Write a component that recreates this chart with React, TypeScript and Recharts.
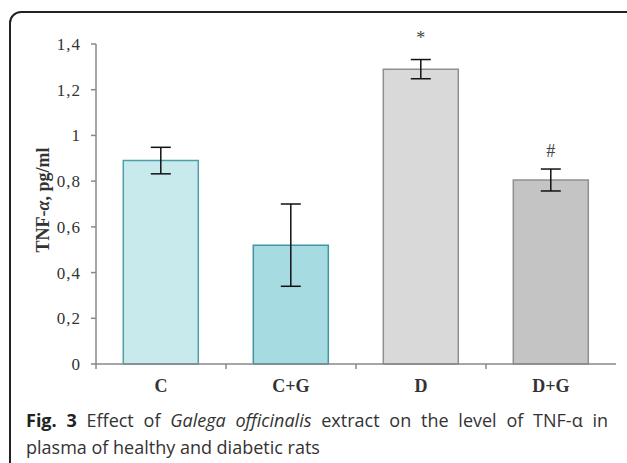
import React from 'react';
import { BarChart, Bar, XAxis, YAxis, ErrorBar, Cell, LabelList, Label } from 'recharts';

const groups = ['C', 'C+G', 'D', 'D+G'];
const tnfValues = [0.89, 0.52, 1.29, 0.805];
const tnfErrors = [0.058, 0.18, 0.042, 0.048];
const marks = ['', '', '*', '#'];
const yTicks = [0, 0.2, 0.4, 0.6, 0.8, 1, 1.2, 1.4];

const fills = ['#c9eaed', '#a6dce1', '#d9d9d9', '#c4c4c4'];
const strokes = ['#4f9fab', '#3f97a3', '#8f8f8f', '#8f8f8f'];

const data = groups.map((g, i) => ({ group: g, value: tnfValues[i], err: tnfErrors[i], mark: marks[i] }));

const fmt = (v: number) => String(v).replace('.', ',');

// category label in the middle, tick mark on the left edge of each band
const GroupTick = (props: any) => {
  const { x, y, payload } = props;
  const half = payload.offset || 65;
  return (
    <g>
      <line x1={x - half} x2={x - half} y1={y - 8} y2={y - 3} stroke="#888" strokeWidth={1.5} />
      <text x={x} y={y + 20} textAnchor="middle" fontFamily="'Liberation Serif', serif" fontWeight="bold" fontSize={18} fill="#333">
        {payload.value}
      </text>
    </g>
  );
};

const MarkLabel = (props: any) => {
  const { x, y, width, height, index } = props;
  const mark = marks[index];
  if (!mark) return null;
  const pxPerUnit = height / tnfValues[index];
  const top = y - tnfErrors[index] * pxPerUnit;
  const lift = mark === '*' ? 16 : 12;
  return (
    <text x={x + width / 2} y={top - lift} textAnchor="middle" fontFamily="'Liberation Serif', serif" fontSize={18} fill="#444">
      {mark}
    </text>
  );
};

export default function App() {
  return (
    <div style={{ position: 'absolute', left: 0, top: 0, width: 627, height: 463, overflow: 'hidden', background: '#fff' }}>
      <div
        style={{
          position: 'absolute', left: 9, top: 11, width: 640, height: 480,
          border: '2px solid #222', borderRadius: 12, boxSizing: 'border-box',
        }}
      />
      <div style={{ position: 'absolute', left: 0, top: 0 }}>
        <BarChart width={627} height={400} data={data} margin={{ top: 44, right: 11, bottom: 6, left: 36 }} barCategoryGap="21%">
          <XAxis
            dataKey="group"
            stroke="#888"
            strokeWidth={1.5}
            tickLine={false}
            tick={<GroupTick />}
            interval={0}
            height={30}
          />
          <YAxis
            domain={[0, 1.4]}
            ticks={yTicks}
            width={60}
            stroke="#888"
            strokeWidth={1.5}
            tickSize={5}
            tickMargin={10}
            tickFormatter={fmt}
            tick={{ fill: '#333', fontSize: 17, fontFamily: "'Liberation Serif', serif", letterSpacing: 1 }}
          >
            <Label
              content={() => (
                <text
                  transform="translate(43,200) rotate(-90)"
                  textAnchor="middle"
                  dominantBaseline="central"
                  fontFamily="'Liberation Serif', serif"
                  fontWeight="bold"
                  fontSize={18}
                  fill="#333"
                >
                  TNF-<tspan fontStyle="italic">α</tspan>, pg/ml
                </text>
              )}
            />
          </YAxis>
          <Bar dataKey="value" isAnimationActive={false} strokeWidth={1.5}>
            {data.map((d, i) => (
              <Cell key={d.group} fill={fills[i]} stroke={strokes[i]} />
            ))}
            <ErrorBar dataKey="err" width={10} stroke="#111" strokeWidth={1.5} />
            <LabelList dataKey="mark" content={<MarkLabel />} />
          </Bar>
        </BarChart>
      </div>
      <div
        style={{
          position: 'absolute', left: 26, top: 407, width: 582,
          fontFamily: "'Open Sans', sans-serif", fontSize: 18, lineHeight: '27px', color: '#333',
        }}
      >
        <div style={{ textAlign: 'justify', textAlignLast: 'justify', whiteSpace: 'nowrap' }}>
          <b style={{ color: '#222' }}>Fig. 3</b> Effect of <i>Galega officinalis</i> extract on the level of TNF-α in
        </div>
        <div>plasma of healthy and diabetic rats</div>
      </div>
    </div>
  );
}
